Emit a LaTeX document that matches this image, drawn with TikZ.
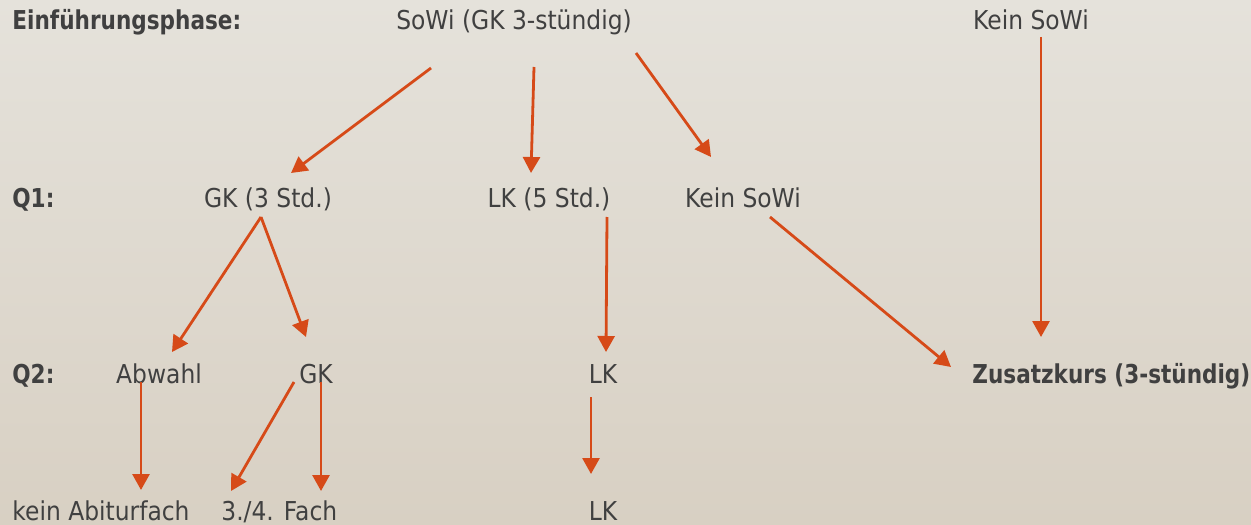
\documentclass[tikz,border=0pt]{standalone}
\usepackage{fontspec}
\setmainfont{DejaVu Sans}[FakeStretch=0.9]
\newfontfamily\stufefont{DejaVu Sans}[FakeStretch=0.83]
\usetikzlibrary{arrows.meta,calc}
\definecolor{bgtop}{RGB}{229,226,219}
\definecolor{bgbot}{RGB}{216,208,195}
\definecolor{txtgray}{RGB}{64,64,64}
\definecolor{pfeil}{RGB}{214,74,24}

\begin{document}
\begin{tikzpicture}[
			x=0.5pt, y=-0.5pt,
			every node/.style={
				inner sep=0,
				text=txtgray,
				font=\fontsize{13pt}{15pt}\selectfont
			},
			stufe/.style={
				anchor=base west,
				font=\fontsize{13pt}{15pt}\stufefont\bfseries
			},
			fach/.style={
				anchor=base
			},
			pfeillink/.style={
				draw=pfeil,
				line width=1.4pt,
				-{Triangle[length=8pt,width=8.5pt]}
			}
		]

		\shade[top color=bgtop, bottom color=bgbot] (0,0) rectangle (1251,524);
		\useasboundingbox (0,0) rectangle (1251,524);

		% Einfuehrungsphase
		\node [stufe] (EF) at (12,30) {Einführungsphase:};
		\node [fach] (SoWi) at (514,30) {SoWi (GK 3-stündig)};
		\node [fach] (KeinEF) at (1031,30) {Kein SoWi};

		% Q1
		\node [stufe] (Q1) at (12,207) {Q1:};
		\node [fach] (GKQ1) at (268,207) {GK (3 Std.)};
		\node [fach] (LKQ1) at (549,207) {LK (5 Std.)};
		\node [fach] (KeinQ1) at (743,207) {Kein SoWi};

		% Q2
		\node [stufe] (Q2) at (12,383) {Q2:};
		\node [fach] (Abwahl) at (159,383) {Abwahl};
		\node [fach] (GKQ2) at (316,383) {GK};
		\node [fach] (LKQ2) at (603,383) {LK};
		\node [stufe] (Zusatz) at (972,383) {Zusatzkurs (3-stündig)};

		% Abitur
		\node [anchor=base west] (KeinAbi) at (12,520) {kein Abiturfach};
		\node [anchor=base west] (Fach34) at (221,520) {3./4. Fach};
		\node [fach] (LKAbi) at (603,520) {LK};

		\draw[pfeillink] ($(SoWi.base)+(-83,38)$) -- ($(GKQ1.base)+(23,-34)$);
		\draw[pfeillink] ($(SoWi.base)+(20,37)$) -- ($(LKQ1.base)+(-18,-34)$);
		\draw[pfeillink] ($(SoWi.base)+(122,23)$) -- ($(KeinQ1.base)+(-32,-50)$);
		\draw[pfeillink] ($(KeinEF.base)+(10,7)$) -- ($(Zusatz.base west)+(69,-46)$);
		\draw[pfeillink] ($(GKQ1.base)+(-7,10)$) -- ($(Abwahl.base)+(13,-31)$);
		\draw[pfeillink] ($(GKQ1.base)+(-7,10)$) -- ($(GKQ2.base)+(-10,-46)$);
		\draw[pfeillink] ($(LKQ1.base)+(58,10)$) -- ($(LKQ2.base)+(3,-31)$);
		\draw[pfeillink] ($(KeinQ1.base)+(27,10)$) -- ($(Zusatz.base west)+(-21,-16)$);
		\draw[pfeillink] ($(Abwahl.base)+(-18,-1)$) -- ($(KeinAbi.base west)+(129,-30)$);
		\draw[pfeillink] ($(GKQ2.base)+(-22,-1)$) -- ($(Fach34.base west)+(10,-29)$);
		\draw[pfeillink] ($(GKQ2.base)+(5,-1)$) -- ($(Fach34.base west)+(100,-29)$);
		\draw[pfeillink] ($(LKQ2.base)+(-12,14)$) -- ($(LKAbi.base)+(-12,-46)$);
		%\draw[pfeillink] (SoWi) -- (GKQ1);

	\end{tikzpicture}
\end{document}
